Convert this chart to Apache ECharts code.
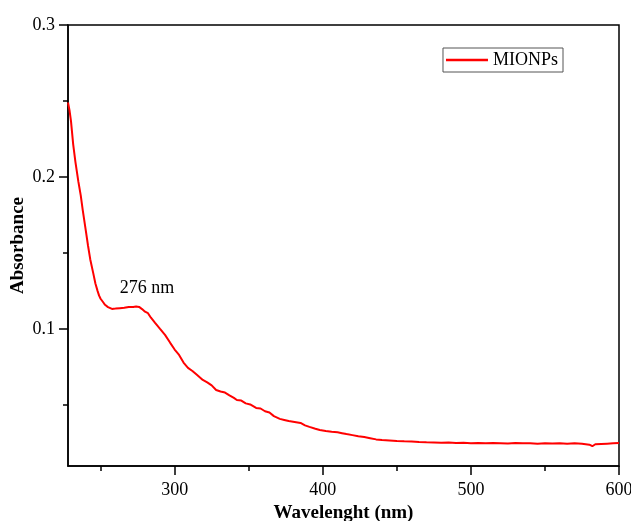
<!DOCTYPE html>
<html>
<head>
<meta charset="utf-8">
<script src="https://cdn.jsdelivr.net/npm/echarts@6/dist/echarts.min.js"></script>
<style>html,body{margin:0;padding:0;background:#fff}#c{width:631px;height:521px}</style>
</head>
<body>
<div id="c"></div>
<script>
const wavelength = [228,229,230,231.5,233,235,236.6,238,240,241.5,243,245,246.5,248,249,250,251.5,253,255,257.7,260,263,266,269,272,274,276,278,280,282,284,286.8,290,293.5,297,300,303,306,309,312,315,319,322,325,328,331,334,337,340,342,345,348,351,355,358,361,364,367,371,374,377,381,385,388,391,395,398,402,406,410,413,416,420,424,428,432,436,440,445,450,455,460,465,470,475,480,485,490,495,500,505,510,515,520,525,530,535,540,545,550,555,560,565,570,575,580,582,584,588,592,596,600];
const absorbance = [0.249,0.244,0.237,0.2215,0.210,0.197,0.188,0.178,0.165,0.155,0.146,0.137,0.130,0.125,0.122,0.120,0.118,0.116,0.1145,0.1133,0.1135,0.1138,0.1140,0.1146,0.1146,0.1149,0.1146,0.1132,0.1115,0.1105,0.1075,0.1041,0.1003,0.0962,0.0910,0.0866,0.0830,0.0780,0.0745,0.0725,0.0700,0.0666,0.0650,0.0630,0.0600,0.0590,0.0583,0.0565,0.0548,0.0534,0.0530,0.0512,0.0505,0.0482,0.0478,0.0460,0.0452,0.0428,0.0410,0.0403,0.0396,0.0390,0.0383,0.0367,0.0357,0.0345,0.0337,0.0330,0.0325,0.0322,0.0316,0.0310,0.0303,0.0296,0.0290,0.0283,0.0275,0.0271,0.0268,0.0264,0.0262,0.0261,0.0258,0.0256,0.0255,0.0253,0.0254,0.0251,0.0253,0.0250,0.0252,0.0249,0.0251,0.0250,0.0248,0.0251,0.0249,0.0250,0.0247,0.0249,0.0248,0.0250,0.0247,0.0249,0.0246,0.0240,0.0230,0.0243,0.0245,0.0247,0.0249,0.0251];
const xMajorTicks = [300,400,500,600];
const xMinorTicks = [250,350,450,550];
const yMajorTicks = [0.1,0.2,0.3];
const yMinorTicks = [0.05,0.15,0.25];
const peakLabel = {x: 276, y: 0.1146, text: '276 nm'};

const font = '"Liberation Serif", "Times New Roman", serif';
const chart = echarts.init(document.getElementById('c'));
chart.setOption({
  animation: false,
  grid: {left: 68, top: 25, right: 12, bottom: 55, containLabel: false, outerBoundsMode: 'none',
         show: true, borderColor: '#000', borderWidth: 1.5, backgroundColor: 'transparent'},
  legend: {
    right: 68, top: 48,
    data: ['MIONPs'],
    icon: 'rect', itemWidth: 42, itemHeight: 2.5,
    borderColor: '#555', borderWidth: 1, padding: [3, 5, 3, 3],
    textStyle: {fontFamily: font, fontSize: 18, color: '#000'},
    itemGap: 4
  },
  xAxis: [{
    type: 'value', min: 228, max: 600, position: 'bottom',
    name: 'Wavelenght (nm)', nameLocation: 'middle', nameGap: 38, nameMoveOverlap: false,
    nameTextStyle: {fontFamily: font, fontSize: 19, fontWeight: 'bold', color: '#000'},
    axisLine: {show: true, lineStyle: {color: '#000', width: 1.5}},
    axisTick: {show: true, customValues: xMajorTicks, length: 9, inside: false, lineStyle: {color: '#000', width: 1.5}},
    axisLabel: {customValues: xMajorTicks, fontFamily: font, fontSize: 18, color: '#000', margin: 15, showMaxLabel: true},
    splitLine: {show: false}
  }, {
    type: 'value', min: 228, max: 600, position: 'bottom',
    axisLine: {show: false},
    axisTick: {show: true, customValues: xMinorTicks, length: 5, lineStyle: {color: '#000', width: 1.5}},
    axisLabel: {show: false},
    splitLine: {show: false}
  }],
  yAxis: [{
    type: 'value', min: 0.01, max: 0.3, position: 'left',
    name: 'Absorbance', nameLocation: 'middle', nameGap: 40, nameRotate: 90, nameMoveOverlap: false,
    nameTextStyle: {fontFamily: font, fontSize: 19, fontWeight: 'bold', color: '#000'},
    axisLine: {show: true, lineStyle: {color: '#000', width: 1.5}},
    axisTick: {show: true, customValues: yMajorTicks, length: 9, lineStyle: {color: '#000', width: 1.5}},
    axisLabel: {customValues: yMajorTicks, fontFamily: font, fontSize: 18, color: '#000', margin: 13, formatter: v => v.toFixed(1)},
    splitLine: {show: false}
  }, {
    type: 'value', min: 0.01, max: 0.3, position: 'left',
    axisLine: {show: false},
    axisTick: {show: true, customValues: yMinorTicks, length: 5, lineStyle: {color: '#000', width: 1.5}},
    axisLabel: {show: false},
    splitLine: {show: false}
  }],
  series: [{
    name: 'MIONPs', type: 'line',
    data: wavelength.map((w, i) => [w, absorbance[i]]),
    showSymbol: false, symbol: 'none',
    lineStyle: {color: '#ff0000', width: 2},
    itemStyle: {color: '#ff0000'},
    markPoint: {
      symbol: 'circle', symbolSize: 0,
      data: [{coord: [peakLabel.x, peakLabel.y], value: peakLabel.text}],
      label: {show: true, formatter: peakLabel.text, position: 'inside', offset: [8, -19], fontFamily: font, fontSize: 18, color: '#000'}
    }
  }]
});
</script>
</body>
</html>
